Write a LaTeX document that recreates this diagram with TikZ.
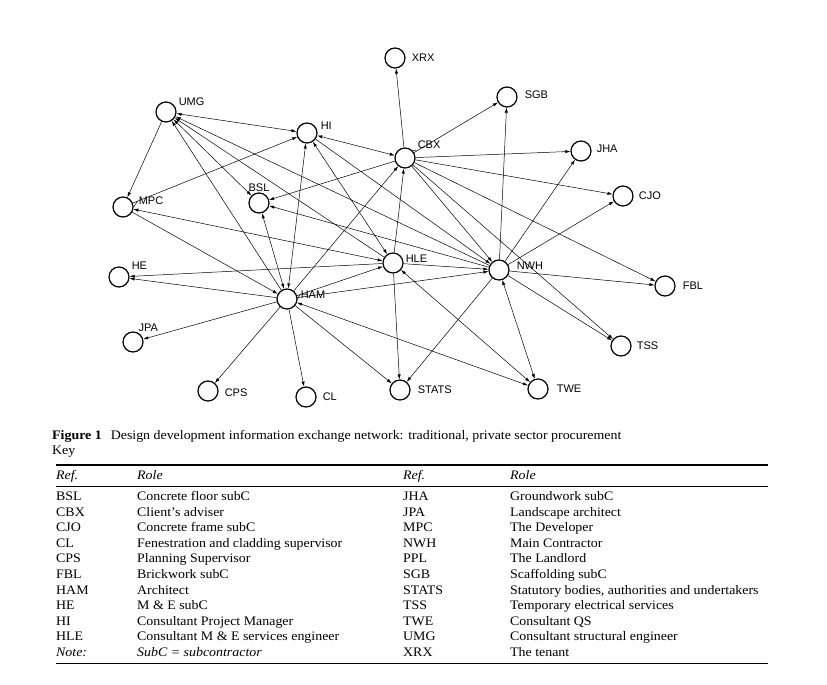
\documentclass[tikz,border=0pt]{standalone}
\usepackage{fontspec}
\setmainfont{Liberation Serif}[FakeStretch=1.07]
\setsansfont{Liberation Sans}
\usepackage{booktabs}
\setlength{\heavyrulewidth}{1.3pt}
\setlength{\lightrulewidth}{0.6pt}
\usetikzlibrary{arrows.meta, positioning}

\begin{document}
\begin{tikzpicture}[
        x=1pt, y=-1pt,
        party/.style={circle, draw=black, line width=1.2pt, minimum size=20pt, inner sep=0pt},
        tag/.style={font=\sffamily\fontsize{11}{13}\selectfont, inner sep=1pt},
        oneway/.style={-{Latex[length=5pt,width=3.2pt]}, line width=0.5pt},
        twoway/.style={{Latex[length=5pt,width=3.2pt]}-{Latex[length=5pt,width=3.2pt]}, line width=0.5pt}
    ]
        \useasboundingbox (0,0) rectangle (827,685);

        % Parties
        \node[party] (xrx) at (395,58) {};
        \node[party] (sgb) at (507,97) {};
        \node[party] (umg) at (166,112) {};
        \node[party] (hi) at (307,133) {};
        \node[party] (cbx) at (405,158) {};
        \node[party] (jha) at (581,151) {};
        \node[party] (cjo) at (623,196) {};
        \node[party] (mpc) at (123,207) {};
        \node[party] (bsl) at (259,203) {};
        \node[party] (he) at (119,277) {};
        \node[party] (hle) at (393,263) {};
        \node[party] (nwh) at (499,270) {};
        \node[party] (fbl) at (665,286) {};
        \node[party] (ham) at (287,299) {};
        \node[party] (jpa) at (133,342) {};
        \node[party] (tss) at (621,346) {};
        \node[party] (cps) at (208,391) {};
        \node[party] (cl) at (306,397) {};
        \node[party] (stats) at (400,390) {};
        \node[party] (twe) at (538,389) {};

        % Tags
        \node[tag, right=5pt of xrx] (xrx-t) {XRX};
        \node[tag, right=6pt of sgb, yshift=2pt] (sgb-t) {SGB};
        \node[tag, right=1pt of umg, yshift=10pt] (umg-t) {UMG};
        \node[tag, right=2pt of hi, yshift=7pt] (hi-t) {HI};
        \node[tag, right=1pt of cbx, yshift=13pt] (cbx-t) {CBX};
        \node[tag, right=4pt of jha, yshift=2pt] (jha-t) {JHA};
        \node[tag, right=4pt of cjo] (cjo-t) {CJO};
        \node[tag, right=6pt of fbl] (fbl-t) {FBL};
        \node[tag, right=6pt of nwh, yshift=4pt] (nwh-t) {NWH};
        \node[tag, right=1pt of hle, yshift=4pt] (hle-t) {HLE};
        \node[tag, above=0pt of bsl] (bsl-t) {BSL};
        \node[tag, right=4pt of mpc, yshift=6pt] (mpc-t) {MPC};
        \node[tag, right=1pt of he, yshift=11pt] (he-t) {HE};
        \node[tag, right=2pt of ham, yshift=4pt] (ham-t) {HAM};
        \node[tag, above right=2pt and -3pt of jpa] (jpa-t) {JPA};
        \node[tag, right=5pt of cps, yshift=-2pt] (cps-t) {CPS};
        \node[tag, right=5pt of cl] (cl-t) {CL};
        \node[tag, right=6pt of stats] (stats-t) {STATS};
        \node[tag, right=7pt of twe] (twe-t) {TWE};
        \node[tag, right=4pt of tss] (tss-t) {TSS};

        \draw[line width=0.5pt] (mpc.east) -- (mpc-t.west);
        \draw[line width=0.5pt] (ham.east) -- (ham-t.west);
        \draw[line width=0.5pt] (cbx.north east) -- (cbx-t.south west);

        % Client's adviser
        \draw[oneway] (cbx) -- (xrx);
        \draw[oneway] (cbx) -- (sgb);
        \draw[oneway] (cbx) -- (jha);
        \draw[oneway] (cbx) -- (cjo);
        \draw[oneway] (cbx) -- (fbl);
        \draw[oneway] (cbx) -- (tss);
        \draw[oneway] (cbx) -- (nwh);
        \draw[oneway] (cbx) -- (bsl);
        \draw[twoway] (cbx) -- (hi);

        % Main contractor
        \draw[oneway] (nwh) -- (sgb);
        \draw[oneway] (nwh) -- (jha);
        \draw[oneway] (nwh) -- (cjo);
        \draw[oneway] (nwh) -- (fbl);
        \draw[oneway] (nwh) -- (tss);
        \draw[twoway] (nwh) -- (twe);
        \draw[oneway] (nwh) -- (stats);
        \draw[oneway] (nwh) -- (bsl);
        \draw[oneway] (nwh) -- (umg);

        % Architect
        \draw[twoway] (ham) -- (twe);
        \draw[oneway] (ham) -- (stats);
        \draw[oneway] (ham) -- (cl);
        \draw[oneway] (ham) -- (cps);
        \draw[oneway] (ham) -- (jpa);
        \draw[oneway] (ham) -- (he);
        \draw[oneway] (ham) -- (hle);
        \draw[oneway] (ham) -- (nwh);
        \draw[oneway] (ham) -- (cbx);
        \draw[twoway] (ham) -- (bsl);
        \draw[twoway] (ham) -- (hi);
        \draw[oneway] (ham) -- (umg);

        % M & E engineer
        \draw[twoway] (hle) -- (twe);
        \draw[oneway] (hle) -- (stats);
        \draw[oneway] (hle) -- (he);
        \draw[oneway] (hle) -- (umg);
        \draw[oneway] (hle) -- (cbx);
        \draw[oneway] (hle) -- (nwh);
        \draw[twoway] (hle) -- (hi);

        % Developer, structural engineer, project manager
        \draw[oneway] (mpc) -- (ham);
        \draw[oneway] (mpc) -- (hi);
        \draw[twoway] (mpc) -- (hle);
        \draw[oneway] (umg) -- (mpc);
        \draw[twoway] (umg) -- (hi);
        \draw[twoway] (umg) -- (bsl);
        \draw[oneway] (hi) -- (nwh);

        % Caption and key
        \node[anchor=west, inner sep=0pt, font=\fontsize{13}{15}\selectfont] (caption) at (52,436)
            {\textbf{Figure 1}\hspace{9pt}Design development information exchange network: traditional, private sector procurement};
        \node[anchor=west, inner sep=0pt, font=\fontsize{13}{15}\selectfont] (key) at (52,452) {Key};
        \node[anchor=north west, inner sep=0pt, font=\fontsize{13}{15.6}\selectfont] (keytable) at (56,464) {%
            \setlength{\tabcolsep}{0pt}%
            \begin{tabular}{@{}p{81pt}p{266pt}p{107pt}p{258pt}@{}}
                \toprule
                \textit{Ref.} & \textit{Role} & \textit{Ref.} & \textit{Role}\\
                \midrule
                BSL & Concrete floor subC & JHA & Groundwork subC\\
                CBX & Client's adviser & JPA & Landscape architect\\
                CJO & Concrete frame subC & MPC & The Developer\\
                CL & Fenestration and cladding supervisor & NWH & Main Contractor\\
                CPS & Planning Supervisor & PPL & The Landlord\\
                FBL & Brickwork subC & SGB & Scaffolding subC\\
                HAM & Architect & STATS & Statutory bodies, authorities and undertakers\\
                HE & M \& E subC & TSS & Temporary electrical services\\
                HI & Consultant Project Manager & TWE & Consultant QS\\
                HLE & Consultant M \& E services engineer & UMG & Consultant structural engineer\\
                \textit{Note:} & \textit{SubC = subcontractor} & XRX & The tenant\\
                \bottomrule
            \end{tabular}};
    \end{tikzpicture}
\end{document}
